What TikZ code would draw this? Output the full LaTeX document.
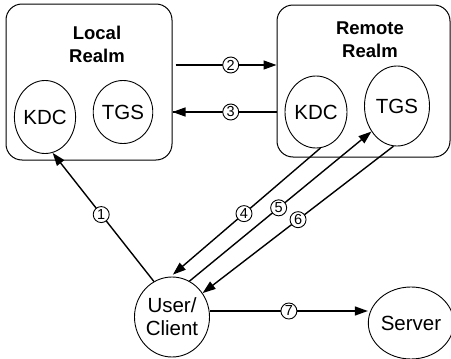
\documentclass[tikz,border=0pt]{standalone}
\usepackage{fontspec}
\setmainfont{Liberation Sans}
\usetikzlibrary{shapes.geometric,arrows.meta}
\begin{document}
\begin{tikzpicture}[x=1pt,y=-1pt,
  realm/.style={draw,line width=1pt,rounded corners=16pt,inner sep=0pt},
  party/.style={draw,ellipse,line width=0.9pt,inner sep=0pt,font=\fontsize{20.5}{23}\selectfont,align=center},
  title/.style={font=\fontsize{18.5}{23}\selectfont\bfseries,align=center},
  arr/.style={line width=1.4pt,-{Triangle[length=13pt,width=9pt]}},
  link/.style={line width=1.4pt},
  num/.style={draw,circle,fill=white,line width=0.9pt,inner sep=0pt,minimum size=16pt,font=\fontsize{14.5}{14.5}\selectfont}
]
\useasboundingbox (0,0) rectangle (451,359);
\fill[white] (0,0) rectangle (451,359);

% realms
\node[realm,minimum width=166pt,minimum height=156pt] (local) at (89,82) {};
\node[realm,minimum width=173pt,minimum height=152pt] (remote) at (363.5,81) {};
\node[title] (ltitle) at (97,44) {Local\\Realm};
\node[title] (rtitle) at (370,40) {Remote\\Realm};

% servers inside the realms
\node[party,minimum width=60pt,minimum height=73pt] (lkdc) at (45,117) {KDC};
\node[party,minimum width=57pt,minimum height=63pt] (ltgs) at (123,112) {TGS};
\node[party,minimum width=62pt,minimum height=72pt] (rkdc) at (316,112) {KDC};
\node[party,minimum width=65pt,minimum height=80pt] (rtgs) at (397,106) {TGS};

% client and application server
\node[party,minimum width=75pt,minimum height=80pt] (uc) at (172,317) {User/\\Client};
\node[party,minimum width=78pt,minimum height=72pt] (srv) at (411,323) {Server};

% messages
\draw[arr] (uc.117) -- node[num,pos=0.52] (n1) {1} (lkdc.282);
\draw[arr,shorten <=3pt] (local.east |- 0,65) -- node[num,pos=0.56] (n2) {2} (remote.west |- 0,65);
\draw[link] (remote.west |- 0,112) -- node[num,pos=0.44] (n3) {3} (local.east |- 0,112);
\draw[arr] (n3) -- (local.east |- 0,112);
\draw[arr,shorten >=3pt] (rkdc.277) -- node[num,pos=0.51] (n4) {4} (uc.92);
\draw[arr] (uc.64) -- node[num,pos=0.49] (n5) {5} (rtgs.225);
\draw[arr] (rtgs.265) -- node[num,pos=0.5] (n6) {6} (uc.38);
\draw[arr] (uc.east |- 0,311) -- node[num,pos=0.5] (n7) {7} (srv.west |- 0,311);
\end{tikzpicture}
\end{document}
